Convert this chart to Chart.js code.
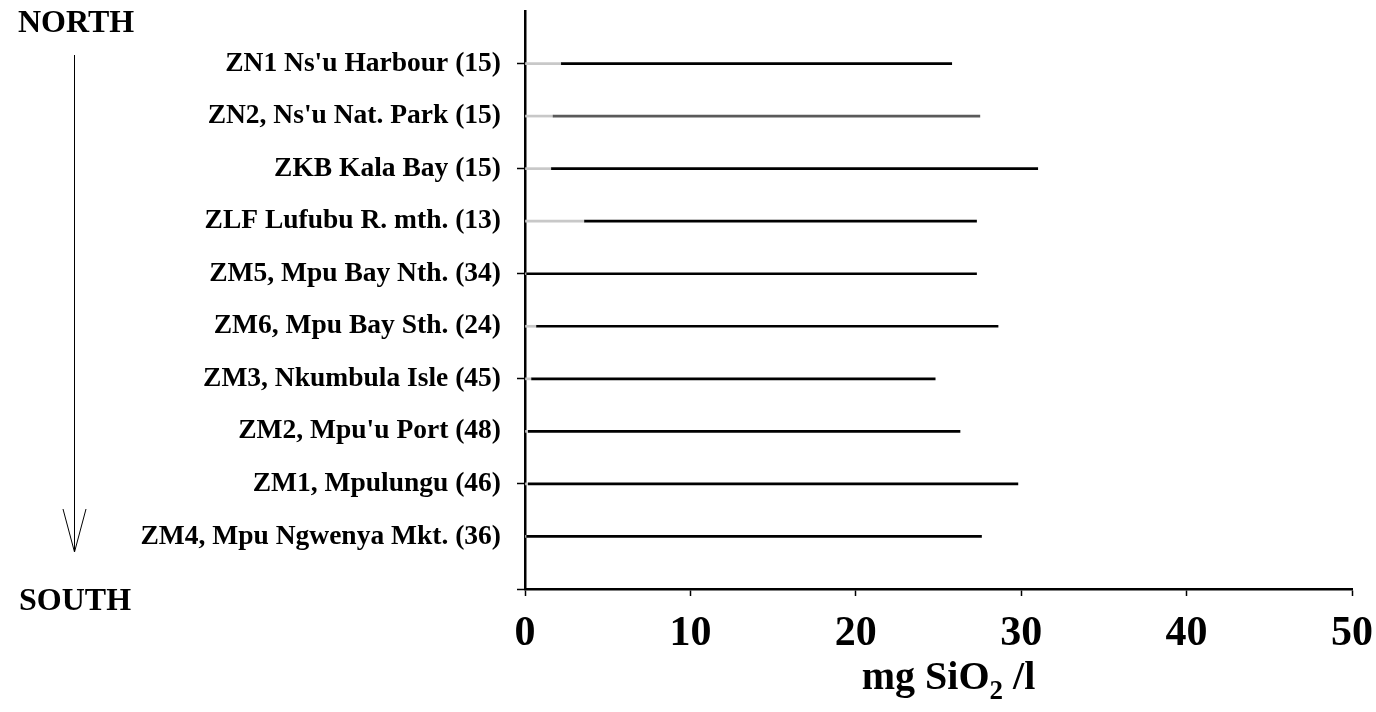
<!DOCTYPE html>
<html>
<head>
<meta charset="utf-8">
<title>Silica ranges by station</title>
<script src="https://cdn.jsdelivr.net/npm/chart.js@4.4.1/dist/chart.umd.min.js"></script>
<style>
  html, body { margin: 0; padding: 0; background: #fff; }
  #wrap { position: relative; width: 1376px; height: 712px; }
</style>
</head>
<body>
<div id="wrap"><canvas id="silicaChart"></canvas></div>
<script>
// Stations listed north to south, with sample counts in brackets
const stations = [
    "ZN1 Ns'u Harbour (15)",
    "ZN2, Ns'u Nat. Park (15)",
    "ZKB Kala Bay (15)",
    "ZLF Lufubu R. mth. (13)",
    "ZM5, Mpu Bay Nth. (34)",
    "ZM6, Mpu Bay Sth. (24)",
    "ZM3, Nkumbula Isle (45)",
    "ZM2, Mpu'u Port (48)",
    "ZM1, Mpulungu (46)",
    "ZM4, Mpu Ngwenya Mkt. (36)"
];
// Minimum and maximum silica, mg SiO2 / l
const minSilica = [2.2, 1.7, 1.6, 3.6, 0.1, 0.7, 0.4, 0.2, 0.2, 0.1];
const maxSilica = [25.8, 27.5, 31.0, 27.3, 27.3, 28.6, 24.8, 26.3, 29.8, 27.6];
const xTicks = [0, 10, 20, 30, 40, 50];

const serif = "'Liberation Serif', 'Times New Roman', serif";

// one empty slot above and below the stations
const labels = [''].concat(stations, ['']);
const pad = arr => [null].concat(arr, [null]);

const baseBars = pad(minSilica.map(v => [0, v]));
const rangeBars = pad(minSilica.map((v, i) => [v, maxSilica[i]]));
const rangeColors = pad(stations.map((s, i) => i === 1 ? '#5a5a5a' : '#000000'));

// NORTH -> SOUTH arrow and the x-axis title with its subscript
const decorations = {
    id: 'decorations',
    afterDraw(chart) {
        const c = chart.ctx;
        const xs = chart.scales.x;
        c.save();
        c.fillStyle = '#000';
        c.strokeStyle = '#000';
        c.font = 'bold 32px ' + serif;
        c.textBaseline = 'alphabetic';
        c.textAlign = 'left';
        c.fillText('NORTH', 18, 32);
        c.fillText('SOUTH', 19, 610);

        c.lineWidth = 1;
        c.beginPath();
        c.moveTo(74.5, 55);
        c.lineTo(74.5, 551);
        c.moveTo(63, 509);
        c.lineTo(74.5, 552);
        c.lineTo(86, 509);
        c.stroke();

        // mg SiO2 /l
        const big = 'bold 40px ' + serif;
        const small = 'bold 27px ' + serif;
        c.font = big;
        const w1 = c.measureText('mg SiO').width;
        const w3 = c.measureText(' /l').width;
        c.font = small;
        const w2 = c.measureText('2').width;
        let x = (xs.left + xs.right) / 2 + 10 - (w1 + w2 + w3) / 2;
        const y = 689;
        c.font = big;
        c.fillText('mg SiO', x, y);
        x += w1;
        c.font = small;
        c.fillText('2', x, y + 10);
        x += w2;
        c.font = big;
        c.fillText(' /l', x, y);
        c.restore();
    }
};

new Chart(document.getElementById('silicaChart'), {
    type: 'bar',
    data: {
        labels: labels,
        datasets: [
            {
                label: 'below minimum',
                data: baseBars,
                backgroundColor: '#c8c8c8',
                barThickness: 2,
                grouped: false,
                order: 2
            },
            {
                label: 'range',
                data: rangeBars,
                backgroundColor: rangeColors,
                barThickness: 2,
                grouped: false,
                order: 1
            }
        ]
    },
    options: {
        indexAxis: 'y',
        responsive: true,
        maintainAspectRatio: false,
        animation: false,
        layout: { padding: { top: 11, right: 24, left: 0, bottom: 0 } },
        plugins: {
            legend: { display: false },
            tooltip: { enabled: false }
        },
        scales: {
            y: {
                type: 'category',
                offset: false,
                afterFit(scale) {
                    scale.width = 525;
                    scale.paddingTop = 0;
                    scale.paddingBottom = 0;
                },
                border: { color: '#000', width: 2.5 },
                grid: {
                    offset: false,
                    drawOnChartArea: false,
                    tickLength: 8,
                    tickWidth: 1.5,
                    tickColor: ctx => (ctx.index % 2 === 1 ? '#000' : 'rgba(0,0,0,0)')
                },
                ticks: {
                    autoSkip: false,
                    padding: 16,
                    color: '#000',
                    font: { family: serif, size: 27.5, weight: 'bold' }
                }
            },
            x: {
                type: 'linear',
                min: 0,
                max: 50,
                afterFit(scale) {
                    scale.height = 123;
                    scale.paddingLeft = 0;
                    scale.paddingRight = 0;
                },
                afterBuildTicks(scale) { scale.ticks = xTicks.map(v => ({ value: v })); },
                border: { color: '#000', width: 2.5 },
                grid: {
                    drawOnChartArea: false,
                    tickLength: 7,
                    tickWidth: 1.5,
                    tickColor: '#000'
                },
                ticks: {
                    padding: 13,
                    color: '#000',
                    font: { family: serif, size: 42, weight: 'bold' }
                }
            }
        }
    },
    plugins: [decorations]
});
</script>
</body>
</html>
